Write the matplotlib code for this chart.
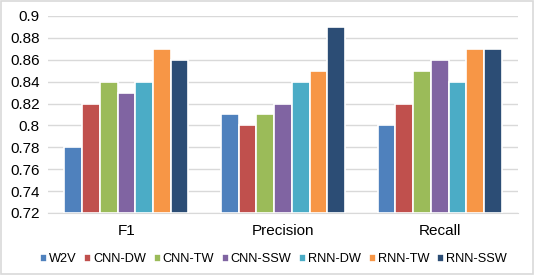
import numpy as np
import matplotlib
matplotlib.use('Agg')
import matplotlib.pyplot as plt
from matplotlib.patches import Rectangle

plt.rcParams['font.family'] = ['Liberation Sans', 'DejaVu Sans']

categories = ['F1', 'Precision', 'Recall']
series = ['W2V', 'CNN-DW', 'CNN-TW', 'CNN-SSW', 'RNN-DW', 'RNN-TW', 'RNN-SSW']
w2v = [0.78, 0.81, 0.80]
cnn_dw = [0.82, 0.80, 0.82]
cnn_tw = [0.84, 0.81, 0.85]
cnn_ssw = [0.83, 0.82, 0.86]
rnn_dw = [0.84, 0.84, 0.84]
rnn_tw = [0.87, 0.85, 0.87]
rnn_ssw = [0.86, 0.89, 0.87]
values = [w2v, cnn_dw, cnn_tw, cnn_ssw, rnn_dw, rnn_tw, rnn_ssw]
colors = ['#4F81BD', '#C0504D', '#9BBB59', '#8064A2', '#4BACC6', '#F79646', '#2C4D75']

fig = plt.figure(figsize=(5.34, 2.75), dpi=100)
ax = fig.add_axes([0.09, 0.2255, 0.88, 0.7165])

x = np.arange(len(categories))
slot = 0.113
for i, (name, vals, c) in enumerate(zip(series, values, colors)):
    off = (i - 3) * slot
    ax.bar(x + off, np.array(vals) - 0.72, bottom=0.72, width=slot,
           color=c, edgecolor='white', linewidth=1.2, label=name, zorder=3)

ax.set_ylim(0.72, 0.9)
ax.set_xlim(-0.5, 2.5)
ax.set_yticks(np.arange(0.72, 0.901, 0.02))
ax.set_yticklabels(['0.72', '0.74', '0.76', '0.78', '0.8', '0.82', '0.84', '0.86', '0.88', '0.9'])
ax.set_xticks(x)
ax.set_xticklabels(categories)
ax.tick_params(axis='both', length=0, labelsize=11, pad=6)
ax.tick_params(axis='x', pad=8)
ax.yaxis.grid(True, color='#D9D9D9', linewidth=1, zorder=0)
for s in ['top', 'right', 'left']:
    ax.spines[s].set_visible(False)
ax.spines['bottom'].set_color('#D9D9D9')

ax.legend(loc='upper center', bbox_to_anchor=(0.479, -0.205), ncol=7, frameon=False,
          fontsize=9.2, handlelength=0.55, handleheight=0.55, handletextpad=0.15,
          columnspacing=0.6, borderaxespad=0, borderpad=0)

fig.patches.append(Rectangle((0.002, 0.004), 0.996, 0.992, transform=fig.transFigure,
                             fill=False, edgecolor='#D9D9D9', linewidth=1.2))

fig.savefig('out.png', dpi=100)
